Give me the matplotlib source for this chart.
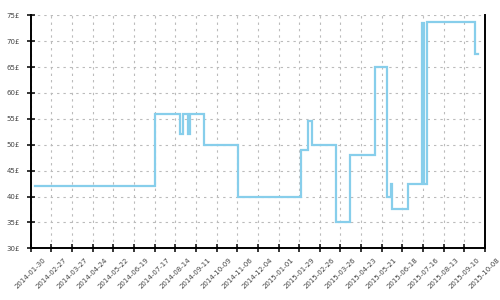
import matplotlib
matplotlib.use("Agg")
import matplotlib.pyplot as plt
import matplotlib.dates as mdates
import pandas as pd

# price history (step changes)
dates = ["2014-02-05", "2014-07-18", "2014-08-20", "2014-08-24", "2014-08-31",
         "2014-09-03", "2014-09-22", "2014-11-07", "2015-01-31", "2015-02-10",
         "2015-02-15", "2015-03-20", "2015-04-08", "2015-05-12", "2015-05-28",
         "2015-06-03", "2015-06-04", "2015-06-26", "2015-07-14", "2015-07-17",
         "2015-07-22", "2015-09-24", "2015-09-28"]
prices = [42, 56, 52, 56, 52,
          56, 50, 40, 49, 54.5,
          50, 35, 48, 65, 40,
          42.5, 37.5, 42.5, 73.5, 42.5,
          73.7, 67.5, 67.5]

tick_start = "2014-01-30"
tick_end = "2015-10-08"
y_ticks = [30, 35, 40, 45, 50, 55, 60, 65, 70, 75]

plt.rcParams["lines.scale_dashes"] = False

fig = plt.figure(figsize=(5, 3), dpi=100)
ax = fig.add_axes([0.0614, 0.1723, 0.9086, 0.7767])

x = pd.to_datetime(dates)
ax.plot(x, prices, drawstyle="steps-post", color="#87CEEB", lw=1.6,
        solid_joinstyle="miter")

xt = pd.date_range(tick_start, tick_end, freq="28D")
ax.set_xlim(pd.Timestamp(tick_start), pd.Timestamp(tick_end))
ax.set_ylim(30, 75)
ax.set_xticks(xt)
ax.set_xticklabels([d.strftime("%Y-%m-%d") for d in xt], rotation=45,
                   ha="center", va="top", fontsize=5, color="#444444")
ax.set_yticks(y_ticks)
ax.set_yticklabels([f"{v}£" for v in y_ticks], fontsize=5, color="#444444")

ax.grid(True, color="#bbbbbb", lw=0.8, linestyle=(0, (1.7, 2.9)))
ax.set_axisbelow(True)
ax.tick_params(axis="both", direction="inout", length=6, width=1.1, colors="black",
               labelcolor="#444444")
ax.tick_params(axis="x", pad=3)
ax.tick_params(axis="y", pad=5)
for s in ("left", "bottom", "right"):
    ax.spines[s].set_linewidth(1.4)
ax.spines["top"].set_visible(False)

fig.savefig("out.png", dpi=100)
